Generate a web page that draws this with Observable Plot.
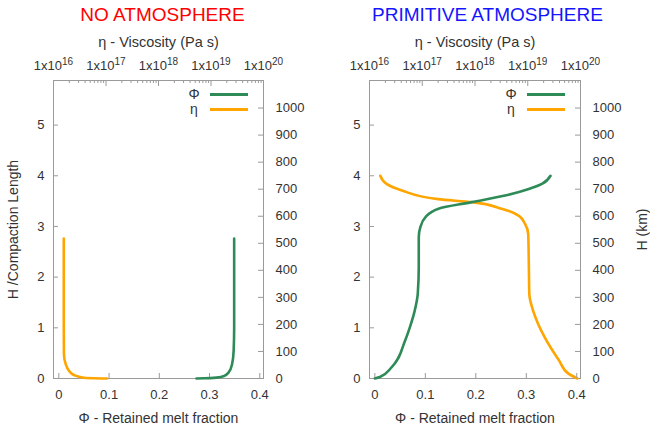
<!DOCTYPE html>
<html><head><meta charset="utf-8">
<script src="https://cdn.jsdelivr.net/npm/d3@7"></script>
<script src="https://cdn.jsdelivr.net/npm/@observablehq/plot@0.6"></script>
<style>
body{margin:0;background:#fff;font-family:"Liberation Sans",Arial,sans-serif;}
#wrap{position:relative;width:650px;height:431px;overflow:hidden;background:#fff}
.title{position:absolute;top:3px;font-size:19px;text-align:center;width:325px;line-height:24px}
.layer{position:absolute;top:0}
.lg{position:absolute;font-size:14px;color:#333;line-height:16px}
.lgline{position:absolute;height:3px}
</style></head><body><div id="wrap"></div>
<script>
// ---- data ----
const KM_PER_CL = 187.4;            // km per compaction length (right axis)
const hTicks = [0, 1, 2, 3, 4, 5];
const kmTicks = [0, 100, 200, 300, 400, 500, 600, 700, 800, 900, 1000];
const phiTicks = [0, 0.1, 0.2, 0.3, 0.4];
const etaMajor = [1e16, 1e17, 1e18, 1e19, 1e20];
const etaExponents = ["16", "17", "18", "19", "20"];
const etaMinorMult = [2, 3, 4, 5, 6, 7, 8, 9];

// NO ATMOSPHERE
const noAtmPhi  = [0.274, 0.29, 0.308, 0.32, 0.328, 0.338, 0.345, 0.348, 0.349, 0.349];
const noAtmPhiH = [0.0, 0.005, 0.012, 0.025, 0.045, 0.12, 0.29, 0.55, 1.0, 2.76];
const noAtmEta  = [1.05e17, 3.8e16, 2.45e16, 1.95e16, 1.70e16, 1.58e16, 1.57e16, 1.57e16];
const noAtmEtaH = [0.0, 0.015, 0.07, 0.16, 0.29, 0.49, 1.0, 2.76];

// PRIMITIVE ATMOSPHERE
const primPhi  = [0.0, 0.01, 0.033, 0.06, 0.069, 0.079, 0.085, 0.087, 0.087, 0.09, 0.1, 0.126, 0.192, 0.258, 0.305, 0.331, 0.348];
const primPhiH = [0.0, 0.03, 0.22, 0.75, 1.0, 1.34, 1.67, 2.2, 2.79, 2.98, 3.18, 3.35, 3.48, 3.61, 3.74, 3.84, 4.0];
const primEta  = [8.7e19, 6.0e19, 3.9e19, 2.1e19, 1.29e19, 1.07e19, 1.05e19, 1.02e19, 8.9e18, 6.8e18, 3.2e18, 8.7e17, 2.0e17, 4.1e16, 2.1e16, 1.6e16];
const primEtaH = [0.0, 0.09, 0.36, 0.81, 1.31, 1.67, 2.2, 2.85, 3.05, 3.21, 3.35, 3.48, 3.54, 3.71, 3.84, 4.0];

const GREEN = "#2e8b57", ORANGE = "#ffa500", AXIS = "#9a9a9a", TXT = "#333";
const W = 325, H = 431, MT = 80, MB = 53;
const Y_DOMAIN = [0, 5.88];
const wrap = document.getElementById("wrap");
const zip = (xs, ys, kx, ky) => xs.map((v, i) => ({[kx]: v, [ky]: ys[i]}));
const etaMinor = etaMajor.slice(0, -1).flatMap(d => etaMinorMult.map(m => d * m));
const style = {fontFamily: "Liberation Sans, Arial, sans-serif", fontSize: "13px", color: TXT, background: "transparent", overflow: "visible"};

function panel({left, ml, mr, phi, phiH, eta, etaH, title, titleColor, leftLabel, rightLabel}) {
  const fw = W - ml - mr, fh = H - MT - MB;
  const phiData = zip(phi, phiH, "phi", "h");
  const etaData = zip(eta, etaH, "eta", "h");

  const a = Plot.plot({
    width: W, height: H, marginLeft: ml, marginRight: mr, marginTop: MT, marginBottom: MB,
    style,
    x: {type: "linear", domain: [-0.0106, 0.4074]},
    y: {domain: Y_DOMAIN},
    marks: [
      Plot.axisX({anchor: "bottom", ticks: phiTicks, tickFormat: d => String(+d.toFixed(1)), tickSize: 0, tickPadding: 11, label: null, fontSize: 13}),
      Plot.axisY({anchor: "left", ticks: hTicks, tickFormat: d => String(d), tickSize: 0, tickPadding: 9, label: null, fontSize: 13}),
      Plot.text(["Φ - Retained melt fraction"], {text: d => d, frameAnchor: "bottom", lineAnchor: "middle", dy: 40, fontSize: 14, fill: TXT}),
      leftLabel ? Plot.text([leftLabel], {text: d => d, frameAnchor: "left", textAnchor: "middle", lineAnchor: "middle", dx: -40, rotate: -90, fontSize: 14, fill: TXT}) : null,
      Plot.tickX(phiTicks, {x: d => d, insetTop: fh - 5, stroke: AXIS}),
      Plot.tickY(hTicks, {y: d => d, insetRight: fw - 5, stroke: AXIS}),
      Plot.line(phiData, {x: "phi", y: "h", stroke: GREEN, strokeWidth: 2.6, curve: "monotone-y"})
    ]
  });
  const b = Plot.plot({
    width: W, height: H, marginLeft: ml, marginRight: mr, marginTop: MT, marginBottom: MB,
    style,
    x: {type: "log", domain: [1e16, 1e20]},
    y: {domain: Y_DOMAIN},
    marks: [
      Plot.frame({stroke: AXIS}),
      Plot.axisX({anchor: "top", ticks: etaMajor, tickFormat: d => "1x10^" + etaExponents[Math.round(Math.log10(d)) - 16],
        tickSize: 0, tickPadding: 11, label: null, fontSize: 13}),
      Plot.text(["η - Viscosity (Pa s)"], {text: d => d, frameAnchor: "top", lineAnchor: "middle", dy: -38, fontSize: 14.5, fill: TXT}),
      Plot.axisY({anchor: "right", ticks: kmTicks.map(k => k / KM_PER_CL), tickFormat: d => String(Math.round(d * KM_PER_CL)),
        tickSize: 0, tickPadding: 12, label: null, fontSize: 13}),
      rightLabel ? Plot.text([rightLabel], {text: d => d, frameAnchor: "right", textAnchor: "middle", lineAnchor: "middle", dx: 62, rotate: -90, fontSize: 14, fill: TXT}) : null,
      Plot.tickY(kmTicks.map(k => k / KM_PER_CL), {y: d => d, insetLeft: fw - 5, stroke: AXIS}),
      Plot.tickX(etaMajor, {x: d => d, insetBottom: fh - 6, stroke: AXIS}),
      Plot.tickX(etaMinor, {x: d => d, insetBottom: fh - 3, stroke: AXIS}),
      Plot.line(etaData, {x: "eta", y: "h", stroke: ORANGE, strokeWidth: 2.6, curve: "monotone-y"})
    ]
  });
  // turn "1x10^NN" tick labels into base + raised exponent (still real text)
  b.querySelectorAll("text").forEach(t => {
    const s = t.textContent;
    if (s.startsWith("1x10^")) {
      const [base, exp] = s.split("^");
      t.textContent = "";
      const ns = "http://www.w3.org/2000/svg";
      const t1 = document.createElementNS(ns, "tspan"); t1.textContent = base;
      const t2 = document.createElementNS(ns, "tspan"); t2.textContent = exp;
      t2.setAttribute("font-size", "10"); t2.setAttribute("dy", "-5");
      t.appendChild(t1); t.appendChild(t2);
    }
  });
  for (const p of [b, a]) { p.classList.add("layer"); p.style.left = left + "px"; wrap.appendChild(p); }

  const t = document.createElement("div");
  t.className = "title"; t.style.left = left + "px"; t.style.color = titleColor; t.textContent = title;
  wrap.appendChild(t);

  const fr = left + W - mr; // frame right edge
  [["Φ", GREEN, 94], ["η", ORANGE, 109]].forEach(([s, c, y]) => {
    const l = document.createElement("div");
    l.className = "lg"; l.textContent = s;
    l.style.left = (fr - 75) + "px"; l.style.top = (y - 8) + "px"; l.style.width = "12px"; l.style.textAlign = "center";
    wrap.appendChild(l);
    const ln = document.createElement("div");
    ln.className = "lgline"; ln.style.background = c;
    ln.style.left = (fr - 53) + "px"; ln.style.width = "38px"; ln.style.top = (y - 1.5) + "px";
    wrap.appendChild(ln);
  });
}

panel({left: 0, ml: 53, mr: 62, phi: noAtmPhi, phiH: noAtmPhiH, eta: noAtmEta, etaH: noAtmEtaH,
  title: "NO ATMOSPHERE", titleColor: "#ff0000", leftLabel: "H /Compaction Length", rightLabel: null});
panel({left: 325, ml: 44, mr: 70, phi: primPhi, phiH: primPhiH, eta: primEta, etaH: primEtaH,
  title: "PRIMITIVE ATMOSPHERE", titleColor: "#1414ff", leftLabel: null, rightLabel: "H (km)"});
</script></body></html>
